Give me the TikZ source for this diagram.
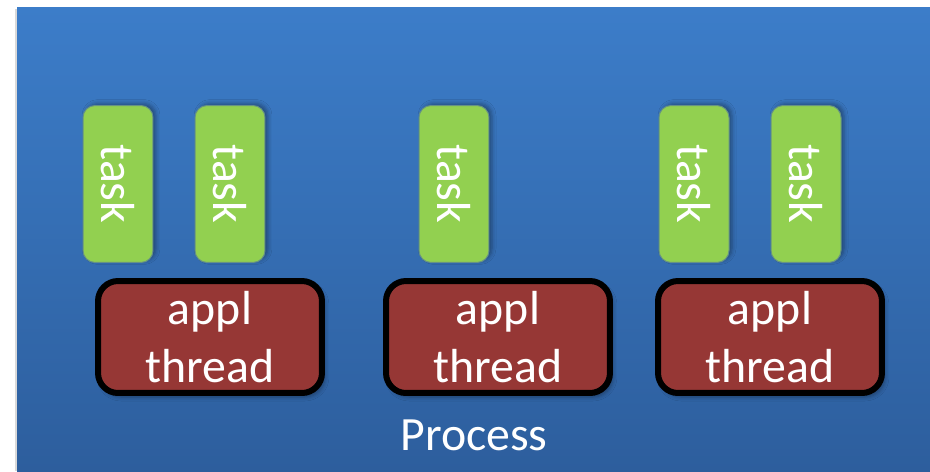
\documentclass[tikz,border=0pt]{standalone}
\usepackage{fontspec}
\setmainfont{Carlito}
\usetikzlibrary{shadows.blur}
\definecolor{bgtop}{RGB}{60,125,201}
\definecolor{bgbot}{RGB}{45,94,157}
\definecolor{taskgreen}{RGB}{146,208,80}
\definecolor{threadred}{RGB}{150,55,53}
\tikzset{
 bigfont/.style={font=\fontsize{27.2}{33}\selectfont},
 taskbox/.style={bigfont,rotate=-90,fill=taskgreen,draw=taskgreen!70!blue,line width=0.02cm,
  rounded corners=0.24cm,minimum width=3.14cm,minimum height=1.4cm,inner sep=0pt,text=white,
  blur shadow={shadow xshift=0.06cm,shadow yshift=0.04cm,shadow opacity=35,shadow blur radius=0.08cm}},
 threadbox/.style={bigfont,fill=threadred,draw=black,line width=0.12cm,rounded corners=0.4cm,
  minimum width=4.48cm,minimum height=2.24cm,inner sep=0pt,text=white,align=center,
  blur shadow={shadow xshift=0.06cm,shadow yshift=-0.08cm,shadow opacity=35,shadow blur radius=0.08cm}}
}

\begin{document}
\begin{tikzpicture}[x=0.02cm,y=-0.02cm]
 \useasboundingbox (0,0) rectangle (930,471);
 % process background
 \fill[black!15] (15,9) rectangle (930,471);
 \shade[top color=bgtop,bottom color=bgbot] (17,7) rectangle (930,471);
 % threads
 \node[threadbox] (thr1) at (210,337) {appl\\thread};
 \node[threadbox] (thr2) at (498,337) {appl\\thread};
 \node[threadbox] (thr3) at (770,337) {appl\\thread};
 % tasks
 \node[taskbox] (t1) at (118,184) {task};
 \node[taskbox] (t2) at (230,184) {task};
 \node[taskbox] (t3) at (454,184) {task};
 \node[taskbox] (t4) at (694,184) {task};
 \node[taskbox] (t5) at (806,184) {task};
 \node[bigfont,text=white] (proc) at (474,435) {Process};
\end{tikzpicture}
\end{document}
